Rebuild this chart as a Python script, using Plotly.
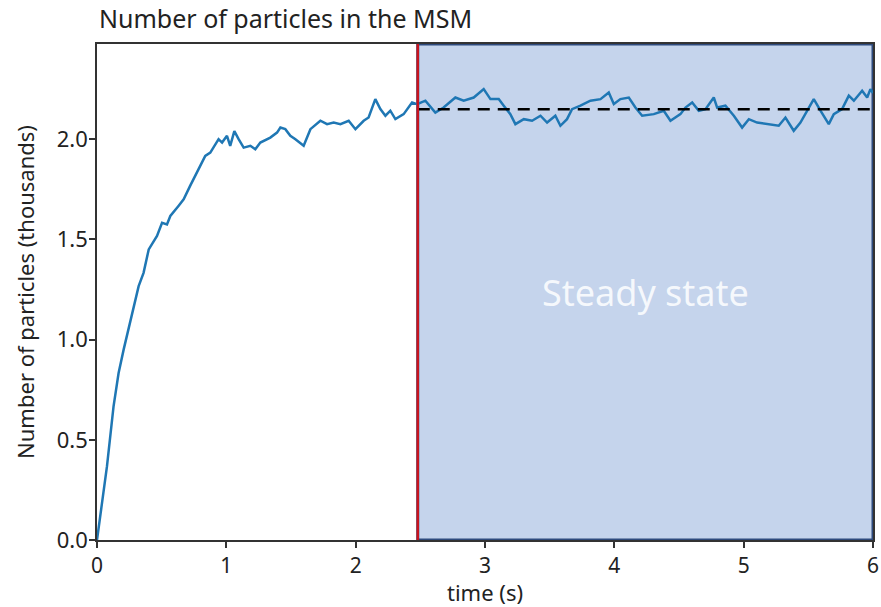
import plotly.graph_objects as go

# time (s)
t = [0, 0.077, 0.128, 0.167, 0.206, 0.27, 0.322, 0.36, 0.4, 0.464, 0.503, 0.541, 0.567,
     0.63, 0.67, 0.72, 0.8, 0.837, 0.876, 0.94, 0.967, 1.005, 1.03, 1.062, 1.095, 1.134,
     1.186, 1.224, 1.263, 1.34, 1.392, 1.418, 1.456, 1.495, 1.534, 1.598, 1.65, 1.727,
     1.779, 1.83, 1.882, 1.946, 1.998, 2.062, 2.1, 2.152, 2.191, 2.23, 2.268, 2.307,
     2.371, 2.436, 2.475, 2.539, 2.616, 2.68, 2.771, 2.835, 2.913, 2.99, 3.042, 3.106,
     3.145, 3.196, 3.235, 3.3, 3.364, 3.429, 3.48, 3.544, 3.583, 3.634, 3.673, 3.738,
     3.815, 3.893, 3.957, 3.996, 4.047, 4.112, 4.163, 4.215, 4.305, 4.382, 4.434, 4.511,
     4.55, 4.602, 4.653, 4.705, 4.769, 4.795, 4.859, 4.924, 4.988, 5.04, 5.104, 5.181,
     5.271, 5.323, 5.387, 5.439, 5.542, 5.594, 5.658, 5.697, 5.761, 5.813, 5.852, 5.916,
     5.955, 5.98, 6.0]
# number of particles (thousands)
n = [0, 0.367, 0.667, 0.833, 0.95, 1.133, 1.267, 1.333, 1.45, 1.517, 1.583, 1.575, 1.617,
     1.667, 1.70, 1.767, 1.867, 1.917, 1.933, 2.0, 1.983, 2.017, 1.967, 2.04, 2.0, 1.958,
     1.967, 1.95, 1.983, 2.008, 2.033, 2.058, 2.05, 2.017, 2.0, 1.967, 2.05, 2.092,
     2.075, 2.083, 2.075, 2.092, 2.05, 2.092, 2.108, 2.2, 2.15, 2.117, 2.142, 2.1,
     2.125, 2.183, 2.175, 2.192, 2.133, 2.158, 2.208, 2.192, 2.208, 2.25, 2.2, 2.2,
     2.167, 2.125, 2.075, 2.1, 2.092, 2.117, 2.083, 2.117, 2.067, 2.1, 2.15, 2.167,
     2.192, 2.2, 2.233, 2.175, 2.2, 2.208, 2.158, 2.117, 2.125, 2.142, 2.092, 2.125,
     2.158, 2.183, 2.142, 2.15, 2.208, 2.158, 2.167, 2.117, 2.058, 2.1, 2.083, 2.075,
     2.067, 2.108, 2.042, 2.083, 2.2, 2.142, 2.075, 2.125, 2.15, 2.217, 2.192, 2.242,
     2.208, 2.25, 2.23]

steady_start = 2.48
steady_mean = 2.15
x_range = [0, 6]
y_range = [0, 2.475]
x_ticks = [0, 1, 2, 3, 4, 5, 6]
y_ticks = [0.0, 0.5, 1.0, 1.5, 2.0]
y_tick_labels = ["0.0", "0.5", "1.0", "1.5", "2.0"]

FONT = "Noto Sans, Open Sans, sans-serif"

fig = go.Figure()

# steady-state shaded region
fig.add_trace(go.Scatter(
    x=[steady_start, x_range[1], x_range[1], steady_start, steady_start],
    y=[y_range[0], y_range[0], y_range[1], y_range[1], y_range[0]],
    mode="lines", fill="toself", fillcolor="#c5d4ec",
    line=dict(color="#2e4a7d", width=3), hoverinfo="skip", showlegend=False))

# particle count
fig.add_trace(go.Scatter(x=t, y=n, mode="lines",
                         line=dict(color="#1f77b4", width=2.5), showlegend=False))

# steady-state mean
fig.add_trace(go.Scatter(x=[steady_start, x_range[1]], y=[steady_mean, steady_mean],
                         mode="lines", line=dict(color="black", width=2.5, dash="12px,8px"),
                         showlegend=False))

# transition marker
fig.add_trace(go.Scatter(x=[steady_start, steady_start], y=y_range, mode="lines",
                         line=dict(color="#c8141e", width=2.5), showlegend=False))

fig.add_annotation(x=(steady_start + x_range[1]) / 2, y=sum(y_range) / 2,
                   text="Steady state", showarrow=False,
                   font=dict(family=FONT, size=36, color="rgba(255,255,255,0.85)"))

fig.update_layout(
    width=881, height=607,
    margin=dict(l=97, r=8, t=44, b=67, autoexpand=False),
    paper_bgcolor="white", plot_bgcolor="white",
    font=dict(family=FONT, color="#222"),
    title=dict(text="Number of particles in the MSM", x=99 / 881, xanchor="left",
               y=1 - 19 / 607, yanchor="middle", yref="container",
               font=dict(family=FONT, size=25, color="#222")),
    xaxis=dict(range=x_range, tickvals=x_ticks, ticks="outside", ticklen=6, tickwidth=1.5,
               tickcolor="#333", showline=True, linecolor="#333", linewidth=1.5, mirror=True,
               showgrid=False, zeroline=False, layer="below traces", automargin=False,
               tickfont=dict(size=21), title=dict(text="time (s)", font=dict(size=22), standoff=0)),
    yaxis=dict(range=y_range, tickvals=y_ticks, ticktext=y_tick_labels, ticks="outside",
               ticklen=6, tickwidth=1.5, tickcolor="#333", showline=True, linecolor="#333",
               linewidth=1.5, mirror=True, showgrid=False, zeroline=False, layer="below traces",
               automargin=False, tickfont=dict(size=22), ticklabelstandoff=-3,
               title=dict(text="Number of particles (thousands)", font=dict(size=22), standoff=16)),
)

fig.write_html("out.html")
